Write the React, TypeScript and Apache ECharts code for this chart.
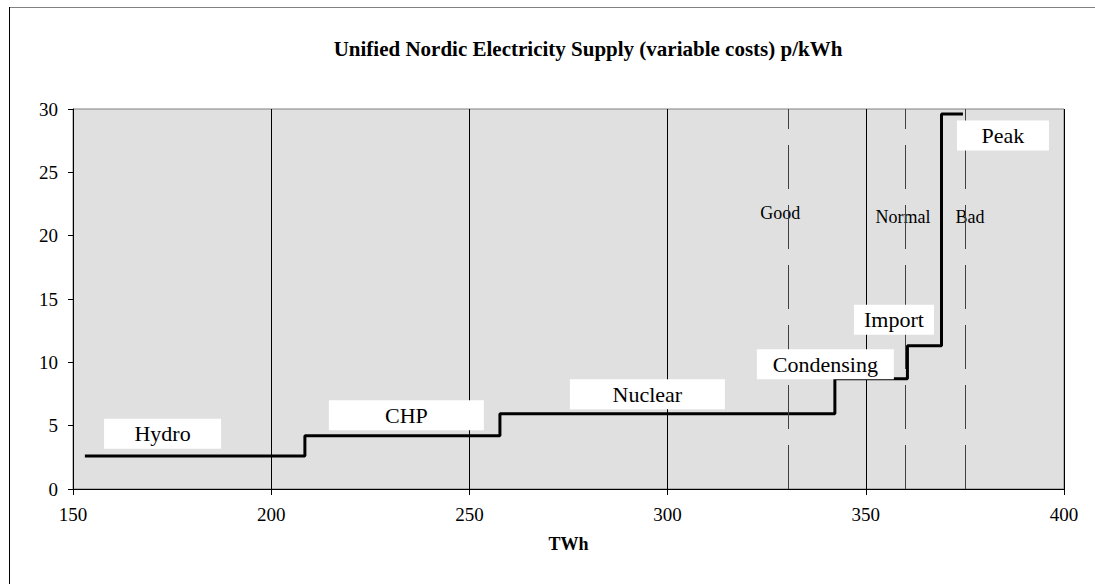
import React, { useEffect, useRef } from "react";
import * as echarts from "echarts";

// Supply curve: step points (TWh, p/kWh); each level holds until the next x
const stepX = [153, 208.5, 257.7, 342.2, 360.5, 369.1, 374.5];
const stepY = [2.6, 4.2, 5.95, 8.7, 11.3, 29.6, 29.6];

// Segment labels and their anchor positions (data coordinates)
const segNames = ["Hydro", "CHP", "Nuclear", "Condensing", "Import", "Peak"];
const segLabelX = [172.6, 234.1, 294.9, 339.8, 357.1, 384.6];
const segLabelY = [4.36, 5.82, 7.48, 9.85, 13.36, 27.9];
const segBoxW = [117, 155, 155, 137, 80, 92];

// Hydrological-year scenario lines
const scenNames = ["Good", "Normal", "Bad"];
const scenX = [330.5, 360, 375];
const scenLabelX = [328.4, 359.4, 376.3];
const scenLabelY = [21.8, 21.5, 21.5];

const xTicks = { min: 150, max: 400, interval: 50 };
const yTicks = { min: 0, max: 30, interval: 5 };

const SERIF = '"Liberation Serif", "Times New Roman", serif';

export default function App() {
  const ref = useRef<HTMLDivElement>(null);
  useEffect(() => {
    if (!ref.current) return;
    const chart = echarts.init(ref.current, undefined, { renderer: "svg" });
    const stepData = stepX.map((x, i) => [x, stepY[i]]);
    const segData = segNames.map((n, i) => ({
      name: n,
      value: [segLabelX[i], segLabelY[i]],
      label: { width: segBoxW[i] },
    }));
    const scenData = scenNames.map((n, i) => ({
      name: n,
      value: [scenLabelX[i], scenLabelY[i]],
    }));
    chart.setOption({
      animation: false,
      backgroundColor: "#fff",
      grid: {
        left: 73,
        right: 31,
        top: 109,
        bottom: 95,
        show: true,
        backgroundColor: "#e0e0e0",
        borderColor: "#808080",
        borderWidth: 1,
      },
      graphic: [
        {
          type: "line",
          shape: { x1: 9, y1: 7.5, x2: 1095, y2: 7.5 },
          style: { stroke: "#808080", lineWidth: 1 },
        },
        {
          type: "line",
          shape: { x1: 9.5, y1: 7, x2: 9.5, y2: 584 },
          style: { stroke: "#000", lineWidth: 1 },
        },
        {
          type: "text",
          x: 588,
          y: 49,
          style: {
            text: "Unified Nordic Electricity Supply (variable costs) p/kWh",
            textAlign: "center",
            textVerticalAlign: "middle",
            font: `bold 21px ${SERIF}`,
            fill: "#000",
          },
        },
      ],
      xAxis: {
        type: "value",
        min: xTicks.min,
        max: xTicks.max,
        interval: xTicks.interval,
        name: "TWh",
        nameLocation: "middle",
        nameGap: 46,
        nameTextStyle: { fontFamily: SERIF, fontWeight: "bold", fontSize: 18, color: "#000" },
        axisLine: { lineStyle: { color: "#000", width: 1 } },
        axisTick: { show: true, length: 6, lineStyle: { color: "#000" } },
        axisLabel: { fontFamily: SERIF, fontSize: 19, color: "#000", margin: 16 },
        splitLine: { show: true, lineStyle: { color: "#000", width: 1 } },
      },
      yAxis: {
        type: "value",
        min: yTicks.min,
        max: yTicks.max,
        interval: yTicks.interval,
        axisLine: { show: true, lineStyle: { color: "#000", width: 1 } },
        axisTick: { show: true, length: 5, lineStyle: { color: "#000" } },
        axisLabel: { fontFamily: SERIF, fontSize: 19, color: "#000", margin: 15 },
        splitLine: { show: false },
      },
      series: [
        {
          type: "line",
          step: "end",
          data: stepData,
          symbol: "none",
          z: 3,
          lineStyle: { color: "#000", width: 3 },
          markLine: {
            silent: true,
            symbol: "none",
            label: { show: false },
            lineStyle: { color: "#404040", width: 1, type: [44, 16], opacity: 1 },
            data: scenX.map((x) => ({ xAxis: x })),
          },
        },
        {
          type: "scatter",
          data: scenData,
          symbolSize: 0,
          z: 4,
          silent: true,
          itemStyle: { opacity: 1, color: "transparent" },
          label: {
            show: true,
            position: "inside",
            formatter: "{b}",
            fontFamily: SERIF,
            fontSize: 18,
            color: "#000",
            opacity: 1,
            backgroundColor: "#e0e0e0",
            padding: [4, 2],
          },
        },
        {
          type: "scatter",
          data: segData,
          symbolSize: 0,
          z: 5,
          silent: true,
          itemStyle: { opacity: 1, color: "transparent" },
          label: {
            show: true,
            position: "inside",
            formatter: "{b}",
            fontFamily: SERIF,
            fontSize: 22,
            color: "#000",
            opacity: 1,
            backgroundColor: "#fff",
            height: 30,
            lineHeight: 30,
            align: "center",
            verticalAlign: "middle",
            padding: 0,
          },
        },
      ],
    });
    return () => chart.dispose();
  }, []);
  return (
    <div
      ref={ref}
      style={{ position: "fixed", left: 0, top: 0, width: 1095, height: 584 }}
    />
  );
}
